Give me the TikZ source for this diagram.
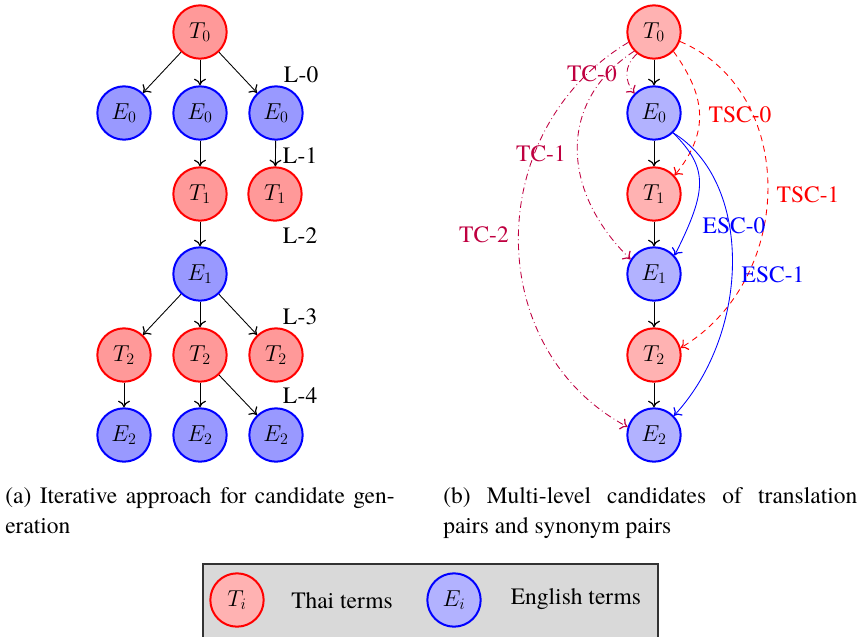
\documentclass[tikz,border=0pt]{standalone}
\usepackage{fontspec}
\setmainfont{texgyretermes}[Extension=.otf, UprightFont=*-regular, ItalicFont=*-italic, BoldFont=*-bold]
\usetikzlibrary{arrows.meta}
\begin{document}
\begin{tikzpicture}[x=0.75pt,y=0.75pt,
  every node/.style={font=\rmfamily\fontsize{17.6pt}{21pt}\selectfont},
  term/.style={circle, draw, line width=1.5pt, minimum size=40pt, inner sep=0pt},
  thaiA/.style={term, draw=red, fill=red!40},
  engA/.style={term, draw=blue, fill=blue!40},
  thaiB/.style={term, draw=red, fill=red!30},
  engB/.style={term, draw=blue, fill=blue!30},
  link/.style={-{To[length=5pt,width=9pt,line width=0.9pt]}, line width=0.65pt},
  tc/.style={link, purple, dash pattern=on 5pt off 2.5pt on 0.6pt off 2.5pt},
  tsc/.style={link, red, dash pattern=on 4.5pt off 3.5pt},
  esc/.style={link, blue},
  tcl/.style={text=purple},
  tscl/.style={text=red},
  escl/.style={text=blue},
]
\useasboundingbox (0,0) rectangle (860,-636);

% ---------- (a) left tree ----------
\node[thaiA] (T0) at (200,-32) {$T_0$};
\node[engA] (E0a) at (124,-113) {$E_0$};
\node[engA] (E0b) at (200,-113) {$E_0$};
\node[engA] (E0c) at (276,-113) {$E_0$};
\node[thaiA] (T1b) at (200,-194) {$T_1$};
\node[thaiA] (T1c) at (275,-194) {$T_1$};
\node[engA] (E1) at (200,-274) {$E_1$};
\node[thaiA] (T2a) at (124,-355) {$T_2$};
\node[thaiA] (T2b) at (200,-355) {$T_2$};
\node[thaiA] (T2c) at (276,-355) {$T_2$};
\node[engA] (E2a) at (124,-435) {$E_2$};
\node[engA] (E2b) at (200,-435) {$E_2$};
\node[engA] (E2c) at (276,-435) {$E_2$};

\node (L0) at (301,-75) {L-0};
\node (L1) at (300,-156) {L-1};
\node (L2) at (300,-236) {L-2};
\node (L3) at (300,-317) {L-3};
\node (L4) at (300,-396) {L-4};

\draw[link] (T0) -- (E0a);
\draw[link] (T0) -- (E0b);
\draw[link] (T0) -- (E0c);
\draw[link] (E0b) -- (T1b);
\draw[link] (E0c) -- (T1c);
\draw[link] (T1b) -- (E1);
\draw[link] (E1) -- (T2a);
\draw[link] (E1) -- (T2b);
\draw[link] (E1) -- (T2c);
\draw[link] (T2a) -- (E2a);
\draw[link] (T2b) -- (E2b);
\draw[link] (T2b) -- (E2c);

% ---------- (b) right chain ----------
\node[thaiB] (rT0) at (654,-32) {$T_0$};
\node[engB] (rE0) at (654,-113) {$E_0$};
\node[thaiB] (rT1) at (654,-194) {$T_1$};
\node[engB] (rE1) at (654,-274) {$E_1$};
\node[thaiB] (rT2) at (654,-355) {$T_2$};
\node[engB] (rE2) at (654,-435) {$E_2$};

\draw[link] (rT0) -- (rE0);
\draw[link] (rE0) -- (rT1);
\draw[link] (rT1) -- (rE1);
\draw[link] (rE1) -- (rT2);
\draw[link] (rT2) -- (rE2);

\draw[tc] (rT0.-128) .. controls (624,-66) and (624,-80) .. (rE0.135);
\draw[tc] (rT0.-136) .. controls (559,-100) and (559,-189) .. (rE1.148);
\draw[tc] (rT0.-158) .. controls (482,-130) and (482,-349) .. (rE2.163);
\draw[tsc] (rT0.-45) .. controls (708,-99) and (708,-134) .. (rT1.42);
\draw[tsc] (rT0.-20) .. controls (797,-91) and (797,-278) .. (rT2.15);
\draw[esc] (rE0.-46) .. controls (708,-168) and (708,-189) .. (rE1.42);
\draw[esc] (rE0.-46) .. controls (752,-181) and (752,-331) .. (rE2.44);

\node[tcl] (lTC0) at (592,-74) {TC-0};
\node[tcl] (lTC1) at (541,-154) {TC-1};
\node[tcl] (lTC2) at (484,-235) {TC-2};
\node[tscl] (lTSC0) at (740,-115) {TSC-0};
\node[tscl] (lTSC1) at (808,-195) {TSC-1};
\node[escl] (lESC0) at (734,-226) {ESC-0};
\node[escl] (lESC1) at (773,-275) {ESC-1};

% ---------- captions ----------
\node[anchor=base west, inner sep=0pt] (capA1) at (5,-503) {\makebox[292pt][s]{(a) Iterative approach for candidate gen-}};
\node[anchor=base west, inner sep=0pt] (capA2) at (5,-533) {eration};
\node[anchor=base west, inner sep=0pt] (capB1) at (443,-503) {\makebox[310.5pt][s]{(b) Multi-level candidates of translation}};
\node[anchor=base west, inner sep=0pt] (capB2) at (443,-533) {pairs and synonym pairs};

% ---------- legend ----------
\draw[fill=black!15, line width=0.8pt, draw=black!80] (203,-564) rectangle (658,-645);
\node[thaiB] (lgT) at (237,-600) {$T_i$};
\node (lgTt) at (342,-601) {Thai terms};
\node[engB] (lgE) at (454,-600) {$E_i$};
\node (lgEt) at (576,-599) {English terms};
\end{tikzpicture}
\end{document}
